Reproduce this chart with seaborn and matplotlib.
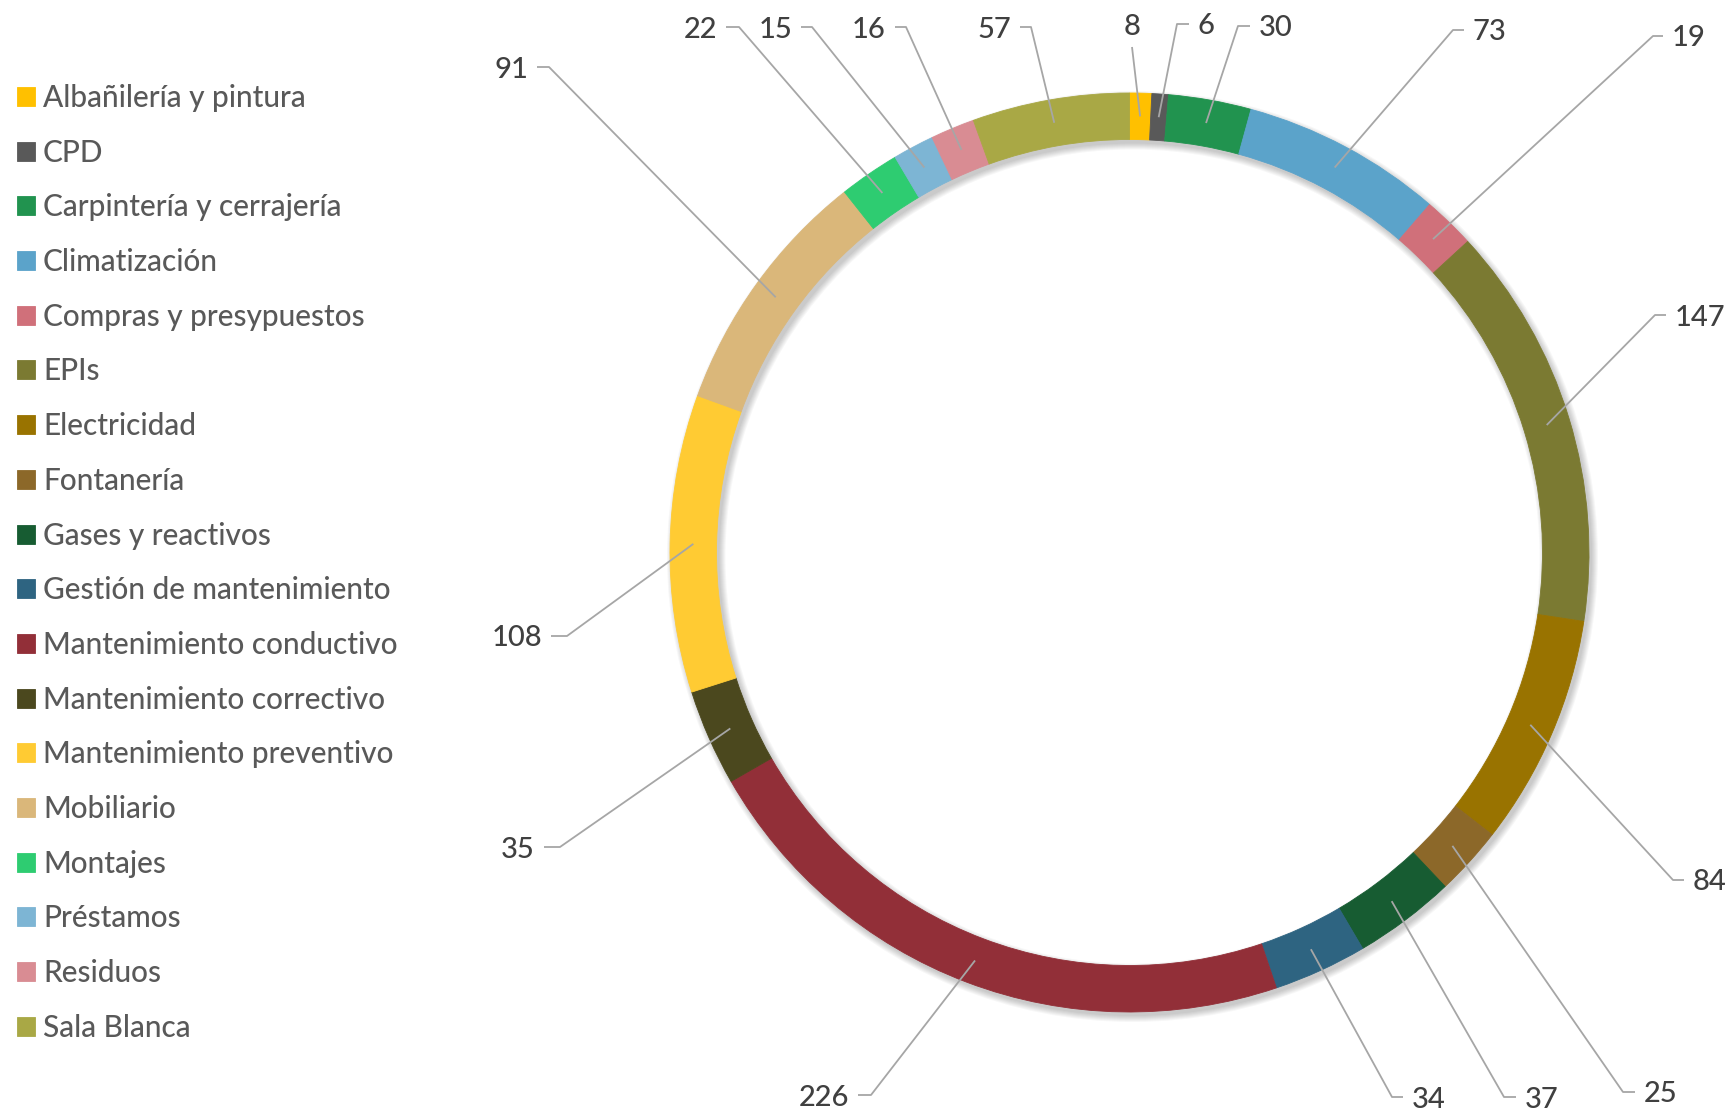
import matplotlib
matplotlib.use("Agg")
import matplotlib.pyplot as plt
from matplotlib.patches import Wedge
import numpy as np
import seaborn as sns

# ---------------- data ----------------
categories = [
    "Albañilería y pintura", "CPD", "Carpintería y cerrajería", "Climatización",
    "Compras y presypuestos", "EPIs", "Electricidad", "Fontanería",
    "Gases y reactivos", "Gestión de mantenimiento", "Mantenimiento conductivo",
    "Mantenimiento correctivo", "Mantenimiento preventivo", "Mobiliario",
    "Montajes", "Préstamos", "Residuos", "Sala Blanca",
]
values = [8, 6, 30, 73, 19, 147, 84, 25, 37, 34, 226, 35, 108, 91, 22, 15, 16, 57]
colors = [
    "#FFC000", "#595959", "#21934F", "#5BA3CA", "#D0707A", "#7B7A32",
    "#997300", "#8C6829", "#175C32", "#2E6481", "#922F38", "#4B481E",
    "#FFCB33", "#DAB77A", "#2ECC71", "#7DB5D4", "#D98C93", "#A9A845",
]

# ---------------- layout (pixels, y from top) ----------------
W_PX, H_PX = 1729, 1111
CX, CY = 1129.5, 552.5          # donut centre
R_OUT, RING_W = 459.5, 46.5      # outer radius, ring width
R_MID = R_OUT - RING_W / 2

# label leader layout: (side, corner_x, end_x, y)
label_layout = [
    ("up",    1132, 1132,  47),
    ("right", 1177, 1189,  24),
    ("right", 1238, 1250,  26),
    ("right", 1453, 1464,  30),
    ("right", 1653, 1663,  36),
    ("right", 1655, 1666, 315),
    ("right", 1673, 1684, 880),
    ("right", 1623, 1635, 1092),
    ("right", 1504, 1516, 1097),
    ("right", 1392, 1403, 1097),
    ("left",   871,  858, 1095),
    ("left",   560,  544,  847),
    ("left",   567,  551,  636),
    ("left",   549,  537,   67),
    ("left",   739,  726,   27),
    ("left",   812,  801,   27),
    ("left",   906,  895,   27),
    ("left",  1031, 1020,   27),
]

sns.set_theme(style="white")
plt.rcParams["font.family"] = ["Lato", "DejaVu Sans"]
palette = sns.color_palette(colors)

fig = plt.figure(figsize=(W_PX / 100, H_PX / 100), dpi=100)
ax = fig.add_axes([0, 0, 1, 1])


def Y(y):
    return H_PX - y


# soft drop shadow
for b in np.linspace(0, 6, 7):
    ax.add_patch(Wedge((CX + 3, Y(CY + 4)), R_OUT + b, 0, 360,
                       width=RING_W + 2 * b, facecolor="black",
                       alpha=0.03, lw=0, zorder=1))

wedges, _ = ax.pie(values, colors=palette, startangle=90, counterclock=False,
                   radius=R_OUT, center=(CX, Y(CY)),
                   wedgeprops=dict(width=RING_W, linewidth=0.6))
for w in wedges:
    w.set_edgecolor(w.get_facecolor())
    w.set_zorder(2)

total = float(sum(values))
vals = np.array(values, dtype=float)
mid_frac = (np.cumsum(vals) - vals / 2) / total
angles = 2 * np.pi * mid_frac

line_col = "#A6A6A6"
txt_col = "#404040"
lab_fs = 21
lab_w = "medium"
for v, ang, (side, cx_, ex_, ly) in zip(values, angles, label_layout):
    sx = CX + R_MID * np.sin(ang)
    sy = CY - R_MID * np.cos(ang)
    if side == "up":
        ax.plot([sx, cx_], [Y(sy), Y(ly)], color=line_col, lw=1.3, zorder=3,
                solid_capstyle="butt")
        ax.text(cx_, Y(ly - 12), str(v), ha="center", va="baseline",
                fontsize=lab_fs, color=txt_col, zorder=4, fontweight=lab_w)
    else:
        ax.plot([sx, cx_, ex_], [Y(sy), Y(ly), Y(ly)], color=line_col, lw=1.3,
                zorder=3, solid_capstyle="butt")
        if side == "right":
            ax.text(ex_ + 9, Y(ly + 10.5), str(v), ha="left", va="baseline",
                    fontsize=lab_fs, color=txt_col, zorder=4, fontweight=lab_w)
        else:
            ax.text(ex_ - 9, Y(ly + 10.5), str(v), ha="right", va="baseline",
                    fontsize=lab_fs, color=txt_col, zorder=4, fontweight=lab_w)

ax.set_xlim(0, W_PX)
ax.set_ylim(0, H_PX)
ax.set_aspect("auto")
ax.axis("off")

leg_fs = 21.4
leg = ax.legend(wedges, categories, loc="upper left",
                bbox_to_anchor=(17 / W_PX, 1 - 84 / H_PX),
                bbox_transform=fig.transFigure,
                frameon=False, prop=dict(size=leg_fs, weight="medium"),
                handlelength=0.606, handleheight=0.606, handletextpad=0.27,
                labelspacing=0.898, borderpad=0, borderaxespad=0)
for t in leg.get_texts():
    t.set_color("#595959")

fig.savefig("out.png", dpi=100, facecolor="white")
